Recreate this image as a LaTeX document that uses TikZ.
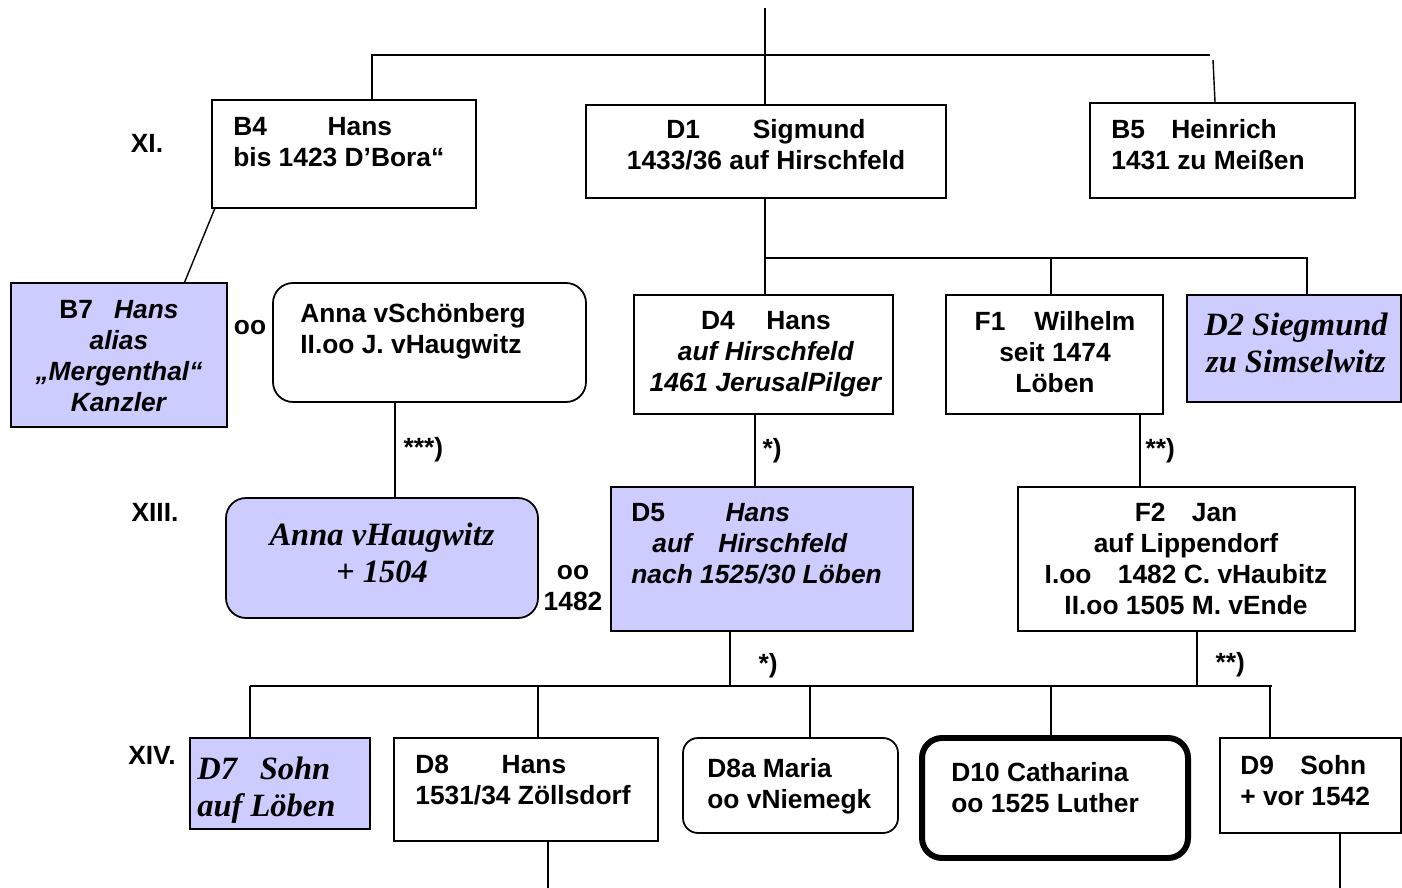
\documentclass[tikz,border=0pt]{standalone}
\usepackage{fontspec}
\setmainfont{Liberation Sans}
\newfontfamily\tnr{Liberation Serif}
\usetikzlibrary{fit,calc,positioning}
\definecolor{lavblue}{HTML}{CCCCFF}

\begin{document}
\begin{tikzpicture}[x=0.02cm, y=-0.02cm,
  box/.style={draw, line width=1pt, inner sep=0pt},
  rbox/.style={box, rounded corners=0.4cm},
  marked/.style={fill=lavblue},
  txt/.style={inner sep=0pt, font=\fontsize{15}{17.6}\selectfont\bfseries},
  roman/.style={inner sep=0pt, font=\tnr\fontsize{18.5}{21}\selectfont\bfseries\itshape},
  note/.style={txt},
  wire/.style={line width=0.8pt}]
  \useasboundingbox (0,0) rectangle (1402,888);

  % generations
  \node[txt] (g11) at (147,143) {XI.};
  \node[txt] (g13) at (155,512) {XIII.};
  \node[txt] (g14) at (152,755) {XIV.};

  % boxes
  \node[box, fit={(212,100) (476,208)}] (b4) {};
  \node[box, fit={(586,105) (946,198)}] (d1) {};
  \node[box, fit={(1090,103) (1355,198)}] (b5) {};
  \node[box, marked, fit={(11,283) (227,427)}] (b7) {};
  \node[rbox, fit={(273,283) (586,402)}] (avs) {};
  \node[box, fit={(634,295) (893,414)}] (d4) {};
  \node[box, fit={(946,295) (1163,414)}] (f1) {};
  \node[box, marked, fit={(1187,295) (1401,402)}] (d2) {};
  \node[rbox, marked, fit={(226,498) (538,618)}] (avh) {};
  \node[box, marked, fit={(611,487) (913,631)}] (d5) {};
  \node[box, fit={(1018,487) (1355,631)}] (f2) {};
  \node[box, marked, fit={(190,738) (370,829)}] (d7) {};
  \node[box, fit={(394,738) (658,841)}] (d8) {};
  \node[rbox, rounded corners=0.3cm, fit={(683,738) (898,833)}] (d8a) {};
  \node[rbox, line width=3.4pt, fit={(922,738) (1188,858)}] (d10) {};
  \node[box, fit={(1220,738) (1401,833)}] (d9) {};

  % texts
  \node[txt, anchor=north west, align=left] (b4t) at (233,117) {B4\hspace{2.3em}Hans\\bis 1423 D’Bora“};
  \node[txt, anchor=north, align=center] (d1t) at (766,119) {D1\hspace{2em}Sigmund\\1433/36 auf Hirschfeld};
  \node[txt, anchor=north west, align=left] (b5t) at (1111,119) {B5\hspace{1em}Heinrich\\1431 zu Meißen};
  \node[txt, anchor=north, align=center] (b7t) at (119,300) {B7\hspace{0.8em}\textit{Hans}\\\textit{alias}\\\textit{„Mergenthal“}\\\textit{Kanzler}};
  \node[txt, anchor=north west, align=left] (avst) at (300,303) {Anna vSchönberg\\II.oo J. vHaugwitz};
  \node[txt, anchor=north, align=center] (d4t) at (766,311) {D4\hspace{1.2em}Hans\\\textit{auf Hirschfeld}\\\textit{1461 JerusalPilger}};
  \node[txt, anchor=north, align=center] (f1t) at (1055,311) {F1\hspace{1.1em}Wilhelm\\seit 1474\\Löben};
  \node[roman, anchor=north, align=center] (d2t) at (1296,313) {D2 Siegmund\\zu Simselwitz};
  \node[roman, anchor=north, align=center] (avht) at (382,523) {Anna vHaugwitz\\+ 1504};
  \node[txt, anchor=north west, align=left] (d5t) at (631,503) {D5\hspace{2.3em}\textit{Hans}\\\hspace*{0.8em}\textit{auf\hspace{1em}Hirschfeld}\\\textit{nach 1525/30 Löben}};
  \node[txt, anchor=north, align=center] (f2t) at (1186,503) {F2\hspace{1em}Jan\\auf Lippendorf\\I.oo\hspace{1em}1482 C. vHaubitz\\II.oo 1505 M. vEnde};
  \node[roman, anchor=north west, align=left] (d7t) at (197,757) {D7\hspace{0.7em}Sohn\\auf Löben};
  \node[txt, anchor=north west, align=left] (d8t) at (415,755) {D8\hspace{2em}Hans\\1531/34 Zöllsdorf};
  \node[txt, anchor=north west, align=left] (d8at) at (707,758) {D8a Maria\\oo vNiemegk};
  \node[txt, anchor=north west, align=left] (d10t) at (951,762) {D10 Catharina\\oo 1525 Luther};
  \node[txt, anchor=north west, align=left] (d9t) at (1240,755) {D9\hspace{1em}Sohn\\+ vor 1542};

  % marriages
  \node[txt] (m1) at (250,328) {oo};
  \node[txt, align=center] (m2) at (573,588) {oo\\1482};

  % lines
  \coordinate (root) at (765,8);
  \coordinate (bus1l) at (372,55);
  \coordinate (bus1r) at (1210,55);
  \coordinate (b5up) at (1213,60);
  \draw[wire] (root) -- (root |- d1.north);
  \draw[wire] (bus1l |- b4.north) -- (bus1l) -- (bus1r);
  \draw[wire] (b5up) -- (b5.north -| 1215,0);
  \draw[wire] (b4.203) -- (b7.48);

  \coordinate (bus2l) at (765,258);
  \coordinate (bus2r) at (1307,258);
  \draw[wire] (d1.south -| bus2l) -- (bus2l) -- (bus2r) -- (bus2r |- d2.north);
  \draw[wire] (bus2l) -- (bus2l |- d4.north);
  \draw[wire] (bus2l -| 1051,0) -- (f1.north -| 1051,0);

  \draw[wire] (avs.south -| 395,0) -- node[note, right, xshift=0.16cm] (s3) {***)} (avh.north -| 395,0);
  \draw[wire] (d4.south -| 755,0) -- node[note, right, xshift=0.14cm] (s1) {*)} (d5.north -| 755,0);
  \draw[wire] (f1.south -| 1140,0) -- node[note, right, xshift=0.1cm] (s2) {**)} (f2.north -| 1140,0);

  \coordinate (bus3l) at (250,686);
  \coordinate (bus3r) at (1272,686);
  \draw[wire] (bus3l) -- (bus3r);
  \draw[wire] (d5.south -| 730,0) -- node[note, right, pos=0.62, xshift=0.56cm] (s4) {*)} (bus3l -| 730,0);
  \draw[wire] (f2.south -| 1197,0) -- node[note, right, pos=0.6, xshift=0.36cm] (s5) {**)} (bus3l -| 1197,0);
  \foreach \k/\x in {d7/250, d8/538, d8a/810, d10/1051, d9/1270}
    \draw[wire] (bus3l -| \x,0) -- (\k.north -| \x,0);

  \coordinate (foot8) at (548,888);
  \coordinate (foot9) at (1340,888);
  \draw[wire] (d8.south -| foot8) -- (foot8);
  \draw[wire] (d9.south -| foot9) -- (foot9);
\end{tikzpicture}
\end{document}
